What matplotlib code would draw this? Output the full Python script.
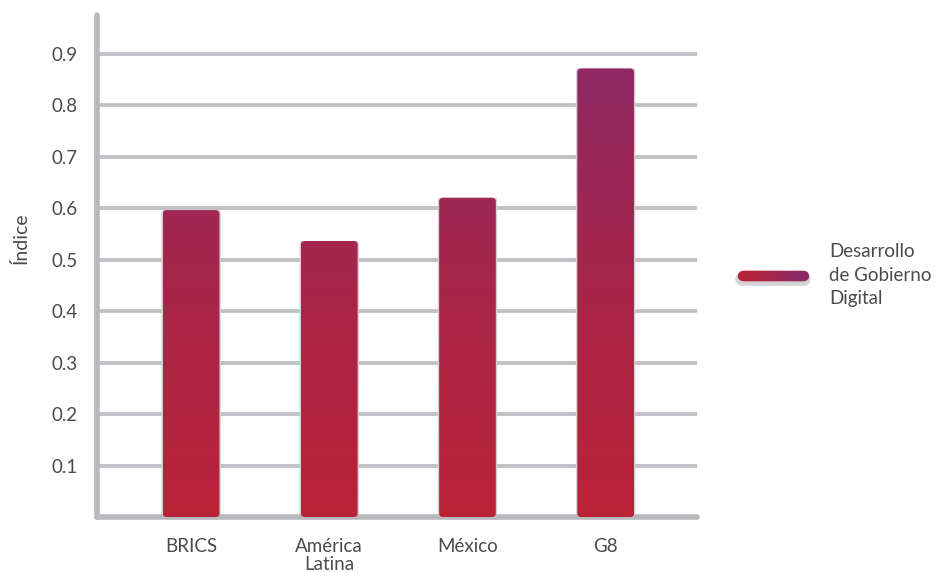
import numpy as np
import matplotlib.pyplot as plt
from matplotlib.patches import FancyBboxPatch
from matplotlib.collections import LineCollection
from matplotlib.colors import LinearSegmentedColormap

categories = ['BRICS', 'América\nLatina', 'México', 'G8']
values = [0.596, 0.536, 0.62, 0.871]
yticks = [0.1, 0.2, 0.3, 0.4, 0.5, 0.6, 0.7, 0.8, 0.9]
legend_label = 'Desarrollo\nde Gobierno\nDigital'

plt.rcParams['font.family'] = ['Lato', 'DejaVu Sans']
grey = '#c0c1c4'
txt = '#4a4a4f'
cmap = LinearSegmentedColormap.from_list('rp', ['#bb2238', '#a8264a', '#8d2a66'])
ytop = 0.975
fs = 13.5

fig = plt.figure(figsize=(9.43, 5.72), dpi=100)
ax = fig.add_axes([0.103, 0.096, 0.636, 0.878])

for y in yticks:
    ax.axhline(y, xmin=0.005, xmax=1, color=grey, lw=2.8, zorder=1)

w = 0.41
grad = np.linspace(0, 1, 256).reshape(-1, 1)
for i, v in enumerate(values):
    x0 = i - w / 2
    # soft shadow around the bar
    sh = FancyBboxPatch((x0 - 0.01, 0), w + 0.02, v, boxstyle='round,pad=0,rounding_size=0.01',
                        mutation_aspect=0.9, fc='#d6d0d3', ec='none', zorder=2)
    ax.add_patch(sh)
    clip = FancyBboxPatch((x0, 0), w, v, boxstyle='round,pad=0,rounding_size=0.03',
                          mutation_aspect=0.25, fc='none', ec='none', zorder=3)
    ax.add_patch(clip)
    im = ax.imshow(grad[: int(256 * v / 0.9) if v < 0.9 else 256], cmap=cmap, vmin=0, vmax=1,
                   origin='lower', aspect='auto', extent=(x0, x0 + w, 0, v), zorder=3,
                   interpolation='bilinear')
    im.set_clip_path(clip)

ax.set_xlim(-0.68, 3.66)
ax.set_ylim(0, ytop)

for s in ['top', 'right']:
    ax.spines[s].set_visible(False)
for s in ['left', 'bottom']:
    ax.spines[s].set_color('#b7b8bb')
    ax.spines[s].set_linewidth(4)
    ax.spines[s].set_capstyle('round')

ax.set_yticks(yticks)
ax.set_yticklabels([str(t) for t in yticks], fontsize=fs, color=txt)
ax.set_xticks(range(len(categories)))
ax.set_xticklabels(categories, fontsize=fs, color=txt, linespacing=1.1)
ax.tick_params(length=0, pad=14)
ax.tick_params(axis='x', pad=15)

fig.text(0.022, 0.584, 'Índice', rotation=90, fontsize=fs + 0.5, color=txt, ha='center', va='center')

# legend
lx = np.linspace(0.788, 0.853, 40)
ly = np.full_like(lx, 0.517)
pts = np.array([lx, ly]).T.reshape(-1, 1, 2)
segs = np.concatenate([pts[:-1], pts[1:]], axis=1)
shadow = LineCollection([[(0.786, 0.513), (0.853, 0.513)]], colors='#d4d4d4', linewidths=9,
                        capstyle='round', transform=fig.transFigure)
fig.add_artist(shadow)
lc = LineCollection(segs, colors=cmap(np.linspace(0, 1, len(segs))), linewidths=7.5,
                    capstyle='round', transform=fig.transFigure)
fig.add_artist(lc)
fig.text(0.879, 0.519, legend_label, fontsize=fs, color=txt, ha='left', va='center', linespacing=1.45)

fig.savefig('out.png', dpi=100)
